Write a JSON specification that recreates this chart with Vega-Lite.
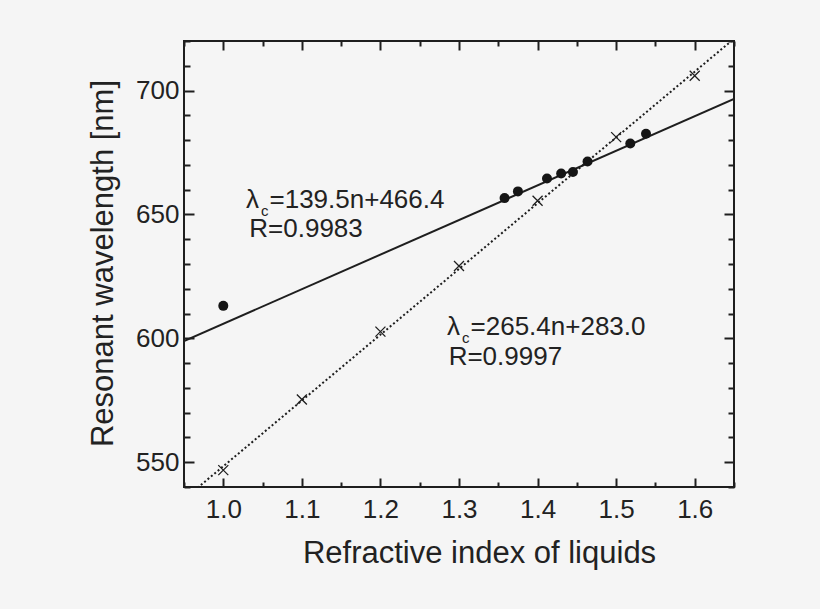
{
  "$schema": "https://vega.github.io/schema/vega-lite/v6.json",
  "width": 550,
  "height": 446,
  "autosize": {"type": "none"},
  "padding": {"left": 184, "top": 41, "right": 86, "bottom": 122},
  "background": "#f5f5f5",
  "config": {
    "view": {"stroke": "#1e1e1e", "strokeWidth": 2, "fill": "#f5f5f5"},
    "font": "Liberation Sans",
    "axis": {
      "domain": false,
      "grid": false,
      "labelFont": "Liberation Sans",
      "labelFontSize": 26,
      "labelColor": "#222222",
      "labelOverlap": false,
      "labelFlush": false,
      "labelBound": false,
      "tickColor": "#1e1e1e",
      "tickWidth": 2,
      "titleFont": "Liberation Sans",
      "titleFontSize": 31,
      "titleFontWeight": "normal",
      "titleColor": "#222222"
    }
  },
  "data": {
    "values": [
      {"series": "fitA", "n": 0.95, "w": 598.9},
      {"series": "fitA", "n": 1.65, "w": 696.6},
      {"series": "fitB", "n": 0.95, "w": 535.1},
      {"series": "fitB", "n": 1.65, "w": 720.9},
      {"series": "circle", "n": 1.0, "w": 613.1},
      {"series": "circle", "n": 1.358, "w": 656.6},
      {"series": "circle", "n": 1.375, "w": 659.3},
      {"series": "circle", "n": 1.412, "w": 664.5},
      {"series": "circle", "n": 1.43, "w": 666.5},
      {"series": "circle", "n": 1.445, "w": 667.1},
      {"series": "circle", "n": 1.4636, "w": 671.4},
      {"series": "circle", "n": 1.518, "w": 678.6},
      {"series": "circle", "n": 1.538, "w": 682.6},
      {"series": "cross", "n": 1.0, "w": 546.8},
      {"series": "cross", "n": 1.1, "w": 575.3},
      {"series": "cross", "n": 1.2, "w": 602.7},
      {"series": "cross", "n": 1.3, "w": 629.2},
      {"series": "cross", "n": 1.4, "w": 655.5},
      {"series": "cross", "n": 1.5, "w": 681.2},
      {"series": "cross", "n": 1.6, "w": 706.0},
      {"series": "eq", "n": 1.0289, "w": 652.8, "text": "=139.5n+466.4"},
      {"series": "eq", "n": 1.2848, "w": 601.4, "text": "=265.4n+283.0"},
      {"series": "r", "n": 1.0331, "w": 641.0, "text": "R=0.9983"},
      {"series": "r", "n": 1.2868, "w": 589.05, "text": "R=0.9997"}
    ]
  },
  "resolve": {"axis": {"x": "independent", "y": "independent"}},
  "layer": [
    {
      "transform": [{"filter": "datum.series === 'fitA'"}],
      "mark": {"type": "line", "stroke": "#1e1e1e", "strokeWidth": 2, "clip": true},
      "encoding": {
        "x": {
          "field": "n", "type": "quantitative",
          "scale": {"domain": [0.95, 1.65], "nice": false, "zero": false},
          "axis": {
            "orient": "bottom",
            "values": [0.95, 1.0, 1.05, 1.1, 1.15, 1.2, 1.25, 1.3, 1.35, 1.4, 1.45, 1.5, 1.55, 1.6, 1.65],
            "format": ".1f",
            "labelExpr": "abs(datum.value*10-round(datum.value*10))<0.001 ? datum.label : ''",
            "tickSize": {"condition": {"test": "abs(datum.value*10-round(datum.value*10))<0.001", "value": -9}, "value": -5},
            "labelPadding": 18,
            "title": "Refractive index of liquids",
            "titleX": 295,
            "titleY": 75,
            "titleAlign": "center",
            "titleBaseline": "alphabetic"
          }
        },
        "y": {
          "field": "w", "type": "quantitative",
          "scale": {"domain": [540, 720], "nice": false, "zero": false},
          "axis": {
            "orient": "left",
            "values": [540, 550, 560, 570, 580, 590, 600, 610, 620, 630, 640, 650, 660, 670, 680, 690, 700, 710, 720],
            "labelExpr": "datum.value % 50 === 0 ? datum.label : ''",
            "tickSize": {"condition": {"test": "datum.value % 50 === 0", "value": -10}, "value": -6},
            "labelPadding": 15,
            "title": "Resonant wavelength [nm]",
            "titleX": -72,
            "titleY": 222,
            "titleAngle": -90,
            "titleAlign": "center",
            "titleBaseline": "alphabetic"
          }
        }
      }
    },
    {
      "transform": [{"filter": "datum.series === 'fitB'"}],
      "mark": {"type": "line", "stroke": "#1e1e1e", "strokeWidth": 2, "strokeDash": [2, 2.4], "clip": true},
      "encoding": {
        "x": {
          "field": "n", "type": "quantitative",
          "axis": {
            "orient": "top",
            "values": [0.95, 1.0, 1.05, 1.1, 1.15, 1.2, 1.25, 1.3, 1.35, 1.4, 1.45, 1.5, 1.55, 1.6, 1.65],
            "labels": false,
            "tickSize": {"condition": {"test": "abs(datum.value*10-round(datum.value*10))<0.001", "value": -9}, "value": -5},
            "title": null
          }
        },
        "y": {
          "field": "w", "type": "quantitative",
          "axis": {
            "orient": "right",
            "values": [540, 550, 560, 570, 580, 590, 600, 610, 620, 630, 640, 650, 660, 670, 680, 690, 700, 710, 720],
            "labels": false,
            "tickSize": {"condition": {"test": "datum.value % 50 === 0", "value": -10}, "value": -6},
            "title": null
          }
        }
      }
    },
    {
      "transform": [{"filter": "datum.series === 'cross'"}],
      "mark": {"type": "point", "shape": "M-1,-1L1,1M-1,1L1,-1", "filled": false, "stroke": "#1e1e1e", "strokeWidth": 1.3, "size": 100, "opacity": 1},
      "encoding": {
        "x": {"field": "n", "type": "quantitative", "axis": null},
        "y": {"field": "w", "type": "quantitative", "axis": null}
      }
    },
    {
      "transform": [{"filter": "datum.series === 'circle'"}],
      "mark": {"type": "point", "shape": "circle", "filled": true, "fill": "#151515", "size": 100, "opacity": 1},
      "encoding": {
        "x": {"field": "n", "type": "quantitative", "axis": null},
        "y": {"field": "w", "type": "quantitative", "axis": null}
      }
    },
    {
      "transform": [{"filter": "datum.series === 'eq'"}],
      "mark": {"type": "text", "text": "λ", "align": "left", "baseline": "alphabetic", "fontSize": 26, "font": "Liberation Sans", "fill": "#222222"},
      "encoding": {
        "x": {"field": "n", "type": "quantitative", "axis": null},
        "y": {"field": "w", "type": "quantitative", "axis": null}
      }
    },
    {
      "transform": [{"filter": "datum.series === 'eq'"}],
      "mark": {"type": "text", "text": "c", "align": "left", "baseline": "alphabetic", "fontSize": 15, "font": "Liberation Sans", "fill": "#222222", "dx": 15, "dy": 8},
      "encoding": {
        "x": {"field": "n", "type": "quantitative", "axis": null},
        "y": {"field": "w", "type": "quantitative", "axis": null}
      }
    },
    {
      "transform": [{"filter": "datum.series === 'eq'"}],
      "mark": {"type": "text", "align": "left", "baseline": "alphabetic", "fontSize": 26, "font": "Liberation Sans", "fill": "#222222", "dx": 23.5},
      "encoding": {
        "x": {"field": "n", "type": "quantitative", "axis": null},
        "y": {"field": "w", "type": "quantitative", "axis": null},
        "text": {"field": "text"}
      }
    },
    {
      "transform": [{"filter": "datum.series === 'r'"}],
      "mark": {"type": "text", "align": "left", "baseline": "alphabetic", "fontSize": 26, "font": "Liberation Sans", "fill": "#222222"},
      "encoding": {
        "x": {"field": "n", "type": "quantitative", "axis": null},
        "y": {"field": "w", "type": "quantitative", "axis": null},
        "text": {"field": "text"}
      }
    }
  ]
}
